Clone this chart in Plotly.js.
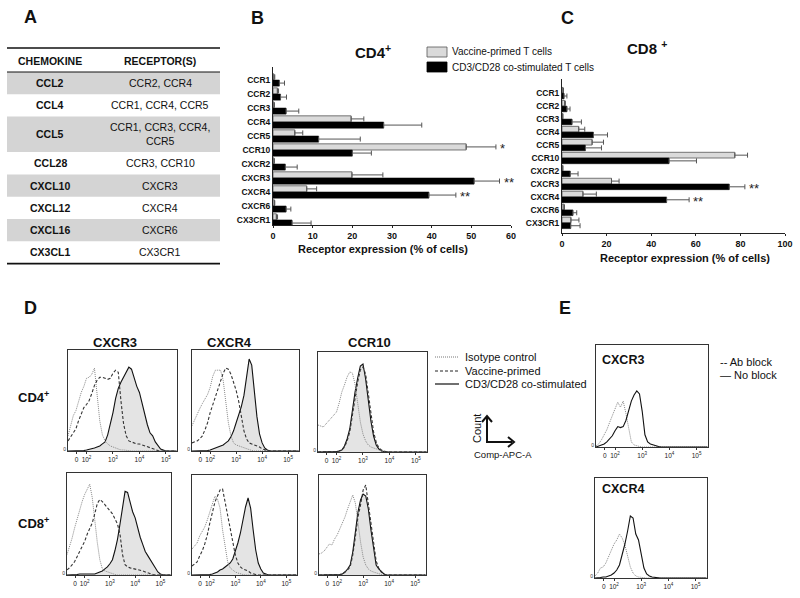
<!DOCTYPE html>
<html><head><meta charset="utf-8">
<script src="https://cdn.plot.ly/plotly-3.0.1.min.js"></script>
<style>body{margin:0;background:#fff}#chart{width:800px;height:598px}</style>
</head><body><div id="chart"></div>
<script>
// ---------------- DATA ----------------
const tableChemokines = ['CCL2','CCL4','CCL5','CCL28','CXCL10','CXCL12','CXCL16','CX3CL1'];
const tableReceptors = ['CCR2, CCR4','CCR1, CCR4, CCR5','CCR1, CCR3, CCR4,<br>CCR5','CCR3, CCR10','CXCR3','CXCR4','CXCR6','CX3CR1'];

const receptors = ['CCR1','CCR2','CCR3','CCR4','CCR5','CCR10','CXCR2','CXCR3','CXCR4','CXCR6','CX3CR1'];
const cd4Vaccine    = [0.25,1.1,0.25,19.7,5.5,48.7,0.25,19.9,8.5,0.35,0.85];
const cd4VaccineErr = [0.2,0.3,0.1,3.2,2.0,7.5,0.1,7.8,2.5,0.1,0.3];
const cd4Costim     = [1.6,1.9,3.3,27.9,11.5,20.0,3.1,50.7,39.3,3.3,4.8];
const cd4CostimErr  = [1.3,1.5,3.2,9.6,10.5,4.8,3.0,6.4,6.8,1.2,4.8];
const cd8Vaccine    = [0.45,1.2,0.3,7.5,13.5,77.5,0.3,22.2,9.4,0.9,4.0];
const cd8VaccineErr = [0.2,0.3,0.1,2.7,5.1,5.7,0.1,3.4,6.0,0.2,3.6];
const cd8Costim     = [0.9,2.2,4.5,14.1,10.5,48.0,3.7,75.0,46.9,4.9,3.9];
const cd8CostimErr  = [1.3,1.4,4.2,6.3,7.2,12.3,3.5,7.0,10.1,1.7,4.2];
const cd4Stars = [{rec:'CCR10',series:'vaccine',text:'*'},{rec:'CXCR3',series:'costim',text:'**'},{rec:'CXCR4',series:'costim',text:'**'}];
const cd8Stars = [{rec:'CXCR3',series:'costim',text:'**'},{rec:'CXCR4',series:'costim',text:'**'}];

const cd4Ticks = [0,10,20,30,40,50,60];
const cd8Ticks = [0,20,40,60,80,100];

// flow-cytometry histograms: fluorescence on logicle scale (decade units), normalised count
const histU = [1.3,1.4,1.5,1.6,1.7,1.8,1.9,2.0,2.1,2.2,2.3,2.4,2.5,2.6,2.7,2.8,2.9,3.0,3.1,3.2,3.3,3.4,3.5,3.6,3.7,3.8,3.9,4.0,4.1,4.2,4.3,4.4,4.5,4.6,4.7,4.8,4.9,5.0,5.1,5.2,5.3,5.4];
const histTickVals = [1.62,2,3,4,5];
const histTickText = ['0','10<sup>2</sup>','10<sup>3</sup>','10<sup>4</sup>','10<sup>5</sup>'];

const cd4Cxcr3Iso = [0.15,0.25,0.35,0.4,0.5,0.58,0.64,0.72, 0.73,0.76,0.82,0.56,0.3,0.16,0.1,0.07,0.05,0.04, 0.03,0.02,0.01,0.01,0.005,0,0,0,0,0, 0,0,0,0,0,0,0,0,0,0, 0,0,0,0];
const cd4Cxcr3Vac = [0.1,0.14,0.18,0.22,0.3,0.37,0.43,0.46, 0.5,0.57,0.65,0.7,0.73,0.73,0.72,0.71,0.72,0.77, 0.8,0.78,0.5,0.27,0.15,0.1,0.09,0.08,0.07,0.07, 0.06,0.05,0.04,0.03,0.02,0.01,0.005,0,0,0, 0,0,0,0];
const cd4Cxcr3Cos = [0,0,0,0.005,0.005,0.005,0.005,0.01, 0.015,0.02,0.03,0.04,0.05,0.07,0.09,0.16,0.26,0.38, 0.52,0.62,0.68,0.73,0.78,0.83,0.81,0.72,0.64,0.58, 0.47,0.36,0.26,0.18,0.15,0.09,0.05,0.02,0.01,0, 0,0,0,0];
const cd4Cxcr4Iso = [0.25,0.31,0.37,0.42,0.47,0.52,0.56,0.63, 0.74,0.8,0.8,0.8,0.7,0.5,0.28,0.15,0.08,0.06, 0.05,0.04,0.03,0.02,0.01,0.005,0,0,0,0, 0,0,0,0,0,0,0,0,0,0, 0,0,0,0];
const cd4Cxcr4Vac = [0.08,0.09,0.1,0.12,0.15,0.21,0.28,0.38, 0.46,0.53,0.61,0.69,0.77,0.82,0.81,0.76,0.68,0.6, 0.49,0.33,0.2,0.12,0.08,0.07,0.06,0.05,0.04,0.02, 0.01,0.005,0,0,0,0,0,0,0,0, 0,0,0,0];
const cd4Cxcr4Cos = [0,0,0.005,0.005,0.005,0.005,0.005,0.01, 0.02,0.03,0.04,0.05,0.06,0.08,0.1,0.14,0.2,0.28, 0.35,0.44,0.55,0.75,0.91,0.85,0.58,0.34,0.17,0.08, 0.03,0.01,0,0,0,0,0,0,0,0, 0,0,0,0];
const cd4Ccr10Iso = [0.27,0.26,0.25,0.28,0.31,0.35,0.38,0.4, 0.49,0.6,0.67,0.75,0.8,0.79,0.68,0.47,0.3,0.18, 0.11,0.07,0.05,0.04,0.03,0.02,0.01,0.005,0,0, 0,0,0,0,0,0,0,0,0,0, 0,0,0,0];
const cd4Ccr10Vac = [0,0,0,0,0,0.005,0.005,0.005, 0.01,0.02,0.05,0.11,0.2,0.38,0.55,0.7,0.82,0.85, 0.78,0.6,0.38,0.2,0.1,0.04,0.02,0.01,0,0, 0,0,0,0,0,0,0,0,0,0, 0,0,0,0];
const cd4Ccr10Cos = [0,0,0,0,0.005,0.005,0.005,0.005, 0.01,0.02,0.06,0.13,0.23,0.42,0.6,0.74,0.86,0.88, 0.73,0.52,0.31,0.16,0.07,0.03,0.01,0.005,0,0, 0,0,0,0,0,0,0,0,0,0, 0,0,0,0];
const cd8Cxcr3Iso = [0.2,0.27,0.36,0.46,0.55,0.64,0.72,0.79, 0.84,0.89,0.76,0.52,0.32,0.15,0.06,0.04,0.03,0.02, 0.01,0.005,0,0,0,0,0,0,0,0, 0,0,0,0,0,0,0,0,0,0, 0,0,0,0];
const cd8Cxcr3Vac = [0.05,0.07,0.1,0.13,0.18,0.23,0.28,0.33, 0.4,0.46,0.51,0.6,0.7,0.74,0.72,0.69,0.66,0.64, 0.6,0.55,0.5,0.4,0.2,0.1,0.08,0.07,0.065,0.06, 0.05,0.05,0.04,0.03,0.02,0.01,0.005,0,0,0, 0,0,0,0];
const cd8Cxcr3Cos = [0,0,0.005,0.005,0.005,0.01,0.01,0.01, 0.01,0.01,0.01,0.01,0.02,0.03,0.04,0.06,0.08,0.11, 0.15,0.24,0.35,0.5,0.68,0.82,0.81,0.72,0.62,0.56, 0.46,0.37,0.3,0.23,0.19,0.15,0.11,0.06,0.03,0.01, 0,0,0,0];
const cd8Cxcr4Iso = [0.26,0.29,0.32,0.39,0.43,0.48,0.55,0.63, 0.73,0.79,0.76,0.67,0.45,0.27,0.13,0.07,0.05,0.03, 0.02,0.01,0.005,0,0,0,0,0,0,0, 0,0,0,0,0,0,0,0,0,0, 0,0,0,0];
const cd8Cxcr4Vac = [0.09,0.11,0.13,0.19,0.24,0.31,0.4,0.52, 0.63,0.73,0.79,0.85,0.86,0.73,0.6,0.46,0.33,0.2, 0.12,0.08,0.06,0.05,0.04,0.02,0.01,0.005,0,0, 0,0,0,0,0,0,0,0,0,0, 0,0,0,0];
const cd8Cxcr4Cos = [0,0,0,0.005,0.005,0.005,0.005,0.005, 0.01,0.02,0.03,0.05,0.06,0.08,0.1,0.12,0.16,0.23, 0.32,0.42,0.56,0.68,0.77,0.67,0.45,0.25,0.12,0.06, 0.02,0.01,0,0,0,0,0,0,0,0, 0,0,0,0];
const cd8Ccr10Iso = [0.21,0.22,0.24,0.27,0.31,0.3,0.36,0.4, 0.46,0.51,0.58,0.66,0.74,0.8,0.72,0.52,0.33,0.18, 0.1,0.06,0.04,0.03,0.02,0.01,0.005,0,0,0, 0,0,0,0,0,0,0,0,0,0, 0,0,0,0];
const cd8Ccr10Vac = [0,0,0,0,0,0.005,0.005,0.005, 0.005,0.01,0.03,0.05,0.08,0.2,0.38,0.58,0.7,0.85, 0.9,0.72,0.53,0.33,0.14,0.07,0.03,0.01,0,0, 0,0,0,0,0,0,0,0,0,0, 0,0,0,0];
const cd8Ccr10Cos = [0,0,0,0,0,0.005,0.005,0.005, 0.005,0.01,0.03,0.06,0.1,0.23,0.42,0.63,0.75,0.81, 0.79,0.66,0.45,0.25,0.1,0.06,0.03,0.01,0,0, 0,0,0,0,0,0,0,0,0,0, 0,0,0,0];
const eCxcr3Ab = [0.01,0.03,0.07,0.12,0.17,0.24,0.31,0.37, 0.44,0.39,0.45,0.33,0.17,0.05,0.02,0.01,0.005,0, 0,0,0,0,0,0,0,0,0,0, 0,0,0,0,0,0,0,0,0,0, 0,0,0,0];
const eCxcr3No = [0,0.01,0.02,0.03,0.05,0.08,0.11,0.16, 0.2,0.19,0.2,0.26,0.35,0.45,0.51,0.55,0.52,0.35, 0.12,0.05,0.03,0.02,0.01,0.005,0,0,0,0, 0,0,0,0,0,0,0,0,0,0, 0,0,0,0];
const eCxcr4Ab = [0.02,0.05,0.1,0.11,0.15,0.22,0.29,0.34, 0.38,0.44,0.4,0.33,0.22,0.11,0.05,0.02,0.01,0.005, 0,0,0,0,0,0,0,0,0,0, 0,0,0,0,0,0,0,0,0,0, 0,0,0,0];
const eCxcr4No = [0,0,0.005,0.01,0.01,0.02,0.03,0.05, 0.08,0.13,0.23,0.34,0.47,0.62,0.6,0.44,0.38,0.25, 0.1,0.04,0.02,0.01,0.005,0,0,0,0,0, 0,0,0,0,0,0,0,0,0,0, 0,0,0,0];

// ---------------- LAYOUT HELPERS ----------------
const W = 800, H = 598;
const FONT = 'Arial, "Liberation Sans", sans-serif';
const px = x => x / W;
const py = y => 1 - y / H;
const annotations = [];
const shapes = [];
function txt(x, y, text, size, opt) {
  opt = opt || {};
  annotations.push(Object.assign({
    xref:'paper', yref:'paper', x:px(x), y:py(y), text:text, showarrow:false,
    xanchor:'center', yanchor:'middle',
    font:{family:FONT, size:size, color:'#111', weight: opt.bold ? 700 : 400}
  }, opt.extra || {}));
}
function line(x0,y0,x1,y1,color,width,dash){
  shapes.push({type:'line', xref:'paper', yref:'paper', x0:px(x0), y0:py(y0), x1:px(x1), y1:py(y1),
    line:{color:color, width:width, dash:dash||'solid'}});
}
function rect(x0,y0,x1,y1,fill,lc,lw){
  shapes.push({type:'rect', xref:'paper', yref:'paper', x0:px(x0), y0:py(y0), x1:px(x1), y1:py(y1),
    fillcolor:fill, line:{color:lc||fill, width:lw||0}, layer:'below'});
}

const traces = [];
const layout = {
  width:W, height:H, margin:{l:0,r:0,t:0,b:0}, paper_bgcolor:'#fff', plot_bgcolor:'rgba(0,0,0,0)',
  showlegend:false, hovermode:false, barmode:'group', font:{family:FONT, color:'#111'}
};

// ---------------- PANEL A: table ----------------
txt(30,17,'A',18,{bold:true});
line(7,48,220,48,'#111',1.6);
line(7,72,220,72,'#111',1);
txt(50,61,'CHEMOKINE',10.5,{bold:true});
txt(160,61,'RECEPTOR(S)',10.5,{bold:true});
let yRow = 72;
tableChemokines.forEach((c,i)=>{
  const h = tableReceptors[i].includes('<br>') ? 35.5 : 22.3;
  if (i % 2 === 0) rect(7, yRow, 220, yRow + h, '#d4d4d4');
  txt(50, yRow + h/2, c, 10.5, {bold:true});
  txt(160, yRow + h/2, tableReceptors[i], 10.5);
  yRow += h;
});
line(7,yRow,220,yRow,'#111',1.6);

// ---------------- PANELS B & C: bar charts ----------------
function barPanel(ax, vac, vacErr, cos, cosErr, ticks, xBox, yBox, yRange, stars) {
  const xa = 'x' + (ax === 1 ? '' : ax), ya = 'y' + (ax === 1 ? '' : ax);
  const zeros = vac.map(() => 0);
  traces.push({type:'bar', orientation:'h', y:receptors, x:vac, xaxis:xa, yaxis:ya,
    marker:{color:'#dadada', line:{color:'#555', width:0.8}},
    error_x:{type:'data', array:vacErr, arrayminus:zeros, symmetric:false, color:'#555', thickness:1, width:2.5}});
  traces.push({type:'bar', orientation:'h', y:receptors, x:cos, xaxis:xa, yaxis:ya,
    marker:{color:'#000', line:{color:'#000', width:0.5}},
    error_x:{type:'data', array:cosErr, arrayminus:zeros, symmetric:false, color:'#555', thickness:1, width:2.5}});
  const xKey = 'xaxis' + (ax === 1 ? '' : ax), yKey = 'yaxis' + (ax === 1 ? '' : ax);
  layout[xKey] = {domain:[px(xBox[0]), px(xBox[1])], anchor:ya, range:[ticks[0], ticks[ticks.length-1]],
    tickvals:ticks, showline:true, linecolor:'#222', linewidth:1, ticks:'outside', ticklen:2, tickcolor:'#222',
    showgrid:false, zeroline:false, tickfont:{family:FONT, size:9, weight:700, color:'#111'}, fixedrange:true};
  layout[yKey] = {domain:[py(yBox[1]), py(yBox[0])], anchor:xa, type:'category', range:yRange,
    showline:true, linecolor:'#222', linewidth:1, ticks:'', showgrid:false, zeroline:false,
    tickfont:{family:FONT, size:8.5, weight:700, color:'#111'}, fixedrange:true};
  stars.forEach(s => {
    const idx = receptors.indexOf(s.rec);
    const end = s.series === 'vaccine' ? vac[idx] + vacErr[idx] : cos[idx] + cosErr[idx];
    annotations.push({xref:xa, yref:ya, x:end, y:s.rec, text:s.text, showarrow:false,
      xanchor:'left', yanchor:'middle', xshift:2, yshift:(s.series === 'vaccine' ? 1 : -5),
      font:{family:FONT, size:13, color:'#222'}});
  });
}
txt(257,18,'B',18,{bold:true});
txt(373,51,'CD4<sup>+</sup>',15,{bold:true});
barPanel(1, cd4Vaccine, cd4VaccineErr, cd4Costim, cd4CostimErr, cd4Ticks, [273,511], [67,225], [10.36,-0.93], cd4Stars);
txt(383,249,'Receptor expression (% of cells)',11,{bold:true});

txt(567,18,'C',18,{bold:true});
txt(647,48,'CD8 <sup>+</sup>',15,{bold:true});
barPanel(2, cd8Vaccine, cd8VaccineErr, cd8Costim, cd8CostimErr, cd8Ticks, [562,785], [79,233], [10.78,-1.09], cd8Stars);
txt(685,258,'Receptor expression (% of cells)',11,{bold:true});
layout.bargap = 0.12;

// legend for B/C
shapes.push({type:'rect', xref:'paper', yref:'paper', x0:px(427), y0:py(57), x1:px(447), y1:py(47), fillcolor:'#dadada', line:{color:'#555', width:0.8}});
shapes.push({type:'rect', xref:'paper', yref:'paper', x0:px(427), y0:py(72), x1:px(447), y1:py(62), fillcolor:'#000', line:{color:'#000', width:0.8}});
txt(450,52,'Vaccine-primed T cells',10,{extra:{xanchor:'left'}});
txt(450,67,'CD3/CD28 co-stimulated T cells',10,{extra:{xanchor:'left'}});

// ---------------- PANELS D & E: histograms ----------------
let axN = 3;
function histPanel(box, curves) {
  const xa = 'x' + axN, ya = 'y' + axN;
  curves.forEach(c => {
    const tr = {type:'scatter', mode:'lines', x:histU, y:c.y, xaxis:xa, yaxis:ya,
      line:{color:c.color, width:c.width, dash:c.dash, shape:'linear'}};
    if (c.fill) { tr.fill = 'tozeroy'; tr.fillcolor = '#e4e4e4'; }
    traces.push(tr);
  });
  layout['xaxis' + axN] = {domain:[px(box[0]), px(box[1])], anchor:ya, range:[1.3,5.42],
    tickvals:histTickVals, ticktext:histTickText, ticks:'outside', ticklen:2, tickcolor:'#333',
    showline:true, mirror:true, linecolor:'#333', linewidth:1, showgrid:false, zeroline:false,
    tickfont:{family:FONT, size:6.5, color:'#222'}, fixedrange:true};
  layout['yaxis' + axN] = {domain:[py(box[3]), py(box[2])], anchor:xa, range:[0,1],
    tickvals:[0.02], ticktext:['0'], ticks:'', showline:true, mirror:true, linecolor:'#333', linewidth:1,
    showgrid:false, zeroline:false, tickfont:{family:FONT, size:5, color:'#333'}, fixedrange:true};
  axN++;
}
function dCurves(iso, vac, cos) {
  return [
    {y:cos, color:'#111', width:1.1, dash:'solid', fill:true},
    {y:iso, color:'#888', width:1, dash:'1px,1px'},
    {y:vac, color:'#333', width:1.1, dash:'3px,2px'}
  ];
}
txt(30,308,'D',18,{bold:true});
txt(115,343,'CXCR3',13,{bold:true});
txt(229,343,'CXCR4',13,{bold:true});
txt(369,343,'CCR10',13,{bold:true});
txt(33,397,'CD4<sup>+</sup>',13,{bold:true});
txt(33,523,'CD8<sup>+</sup>',13,{bold:true});
histPanel([68,177,350,451], dCurves(cd4Cxcr3Iso, cd4Cxcr3Vac, cd4Cxcr3Cos));
histPanel([192,299,350,451], dCurves(cd4Cxcr4Iso, cd4Cxcr4Vac, cd4Cxcr4Cos));
histPanel([318,427,352,452], dCurves(cd4Ccr10Iso, cd4Ccr10Vac, cd4Ccr10Cos));
histPanel([67,171,473,575], dCurves(cd8Cxcr3Iso, cd8Cxcr3Vac, cd8Cxcr3Cos));
histPanel([192,297,475,575], dCurves(cd8Cxcr4Iso, cd8Cxcr4Vac, cd8Cxcr4Cos));
histPanel([319,426,475,575], dCurves(cd8Ccr10Iso, cd8Ccr10Vac, cd8Ccr10Cos));

// D legend
line(435,357,459,357,'#777',1,'1px,1px');
line(435,371,459,371,'#222',1,'3px,2px');
line(435,384,459,384,'#111',1.2);
txt(463,357,'Isotype control',11,{extra:{xanchor:'left'}});
txt(463,371,'Vaccine-primed',11,{extra:{xanchor:'left'}});
txt(463,384,'CD3/CD28 co-stimulated',11,{extra:{xanchor:'left'}});
// axes key
line(487,443,487,417,'#111',2);
line(486,442,512,442,'#111',2);
shapes.push({type:'path', xref:'paper', yref:'paper', path:`M ${px(482)},${py(422)} L ${px(487)},${py(416)} L ${px(492)},${py(422)}`, line:{color:'#111', width:2}});
shapes.push({type:'path', xref:'paper', yref:'paper', path:`M ${px(508)},${py(437)} L ${px(514)},${py(442)} L ${px(508)},${py(447)}`, line:{color:'#111', width:2}});
txt(477,428,'Count',11,{extra:{textangle:-90}});
txt(503,454,'Comp-APC-A',9.5);

// E
txt(565,308,'E',18,{bold:true});
function eCurves(ab, no) {
  return [
    {y:ab, color:'#888', width:1, dash:'1px,1px'},
    {y:no, color:'#111', width:1.1, dash:'solid'}
  ];
}
histPanel([596,708,345,447], eCurves(eCxcr3Ab, eCxcr3No));
histPanel([595,707,478,578], eCurves(eCxcr4Ab, eCxcr4No));
txt(600,360,'CXCR3',12.5,{bold:true, extra:{xanchor:'left'}});
txt(600,489,'CXCR4',12.5,{bold:true, extra:{xanchor:'left'}});
txt(718,362,'-- Ab block',11,{extra:{xanchor:'left'}});
txt(718,375,'— No block',11,{extra:{xanchor:'left'}});

layout.annotations = annotations;
layout.shapes = shapes;
Plotly.newPlot('chart', traces, layout, {staticPlot:true, displayModeBar:false});
</script>
</body></html>
